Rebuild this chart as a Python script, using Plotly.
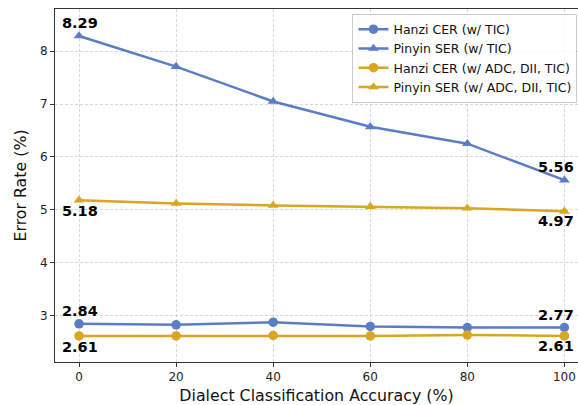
import plotly.graph_objects as go

acc = [0, 20, 40, 60, 80, 100]
hanzi_tic = [2.84, 2.82, 2.87, 2.79, 2.77, 2.77]
pinyin_tic = [8.29, 7.71, 7.05, 6.57, 6.25, 5.56]
hanzi_full = [2.61, 2.61, 2.62, 2.61, 2.63, 2.61]
pinyin_full = [5.18, 5.12, 5.08, 5.06, 5.03, 4.97]

BLUE = "#5B7DC5"
GOLD = "#DAA520"
FONT = "DejaVu Sans"

fig = go.Figure()
series = [
    ("Hanzi CER (w/ TIC)", hanzi_tic, BLUE, "circle"),
    ("Pinyin SER (w/ TIC)", pinyin_tic, BLUE, "triangle-up"),
    ("Hanzi CER (w/ ADC, DII, TIC)", hanzi_full, GOLD, "circle"),
    ("Pinyin SER (w/ ADC, DII, TIC)", pinyin_full, GOLD, "triangle-up"),
]
for name, ys, col, sym in series:
    fig.add_trace(go.Scatter(x=acc, y=ys, name=name, mode="lines+markers",
                             line=dict(color=col, width=2.5),
                             marker=dict(symbol=sym, size=9.5, color=col)))

ann_specs = [
    (acc[0], pinyin_tic[0], 13, 1),
    (acc[-1], pinyin_tic[-1], 13, -8),
    (acc[0], pinyin_full[0], -11, 1),
    (acc[-1], pinyin_full[-1], -10, -8),
    (acc[0], hanzi_tic[0], 13, 1),
    (acc[-1], hanzi_tic[-1], 13, -8),
    (acc[0], hanzi_full[0], -11, 1),
    (acc[-1], hanzi_full[-1], -10, -8),
]
for x, y, ys, xs in ann_specs:
    fig.add_annotation(x=x, y=y, text=f"<b>{y:.2f}</b>", showarrow=False,
                       xshift=xs, yshift=ys,
                       font=dict(family=FONT, size=14.5, color="black"))

axis_common = dict(showline=True, linecolor="#333333", linewidth=1, mirror=True,
                   ticks="outside", ticklen=4, tickcolor="#333333",
                   showgrid=True, gridcolor="rgba(190,190,190,0.6)", griddash="3px,2px",
                   gridwidth=0.6, zeroline=False,
                   tickfont=dict(family=FONT, size=12, color="#222222"))

fig.update_layout(
    width=578, height=405,
    margin=dict(l=55, r=0, t=9, b=43),
    paper_bgcolor="white", plot_bgcolor="white",
    font=dict(family=FONT),
    showlegend=True,
    legend=dict(x=0.999, y=0.987, xanchor="right", yanchor="top",
                bgcolor="rgba(255,255,255,0.8)", bordercolor="#CCCCCC", borderwidth=1,
                font=dict(family=FONT, size=12.5, color="#111111"),
                tracegroupgap=0, itemwidth=30),
    xaxis=dict(range=[-4.95, 102.8], tickvals=[0, 20, 40, 60, 80, 100],
               title=dict(text="Dialect Classification Accuracy (%)", standoff=8,
                          font=dict(family=FONT, size=15.8, color="#111111")),
               **axis_common),
    yaxis=dict(range=[2.117, 8.80], tickvals=[3, 4, 5, 6, 7, 8],
               title=dict(text="Error Rate (%)", standoff=9,
                          font=dict(family=FONT, size=15.8, color="#111111")),
               **axis_common),
)

fig.write_html("out.html", config={"displayModeBar": False},
               post_script="document.body.style.margin='0';document.body.style.overflow='hidden';")
